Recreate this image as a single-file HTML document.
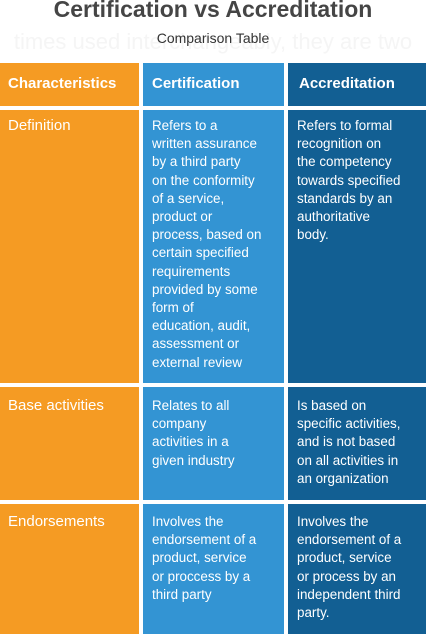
<!DOCTYPE html>
<html><head><meta charset="utf-8"><style>
body{margin:0;width:426px;height:634px;background:#fff;position:relative;overflow:hidden;font-family:"Liberation Sans",sans-serif}
.a{position:absolute}
.t{position:absolute;color:#fff;font-size:13.4px;line-height:18.2px;white-space:nowrap}
.o{background:#F59B23}.b{background:#3394D3}.d{background:#125F93}
.h{font-size:15px;font-weight:bold}
.l{font-size:15px}
</style></head><body>
<div class="a" style="left:0;top:29px;width:426px;text-align:center;font-size:22px;color:#f5f5f5;white-space:nowrap;overflow:hidden">times used interchangeably, they are two</div>
<div class="a" style="left:0;top:-4px;width:426px;text-align:center;font-size:23px;font-weight:bold;color:#454545">Certification vs Accreditation</div>
<div class="a" style="left:0;top:30px;width:426px;text-align:center;font-size:14px;color:#333">Comparison Table</div>

<div class="a o" style="left:0;top:63px;width:139px;height:43px"></div>
<div class="a b" style="left:143px;top:63px;width:141px;height:43px"></div>
<div class="a d" style="left:288px;top:63px;width:138px;height:43px"></div>
<div class="t h" style="left:8px;top:75px">Characteristics</div>
<div class="t h" style="left:152px;top:75px">Certification</div>
<div class="t h" style="left:299px;top:75px">Accreditation</div>

<div class="a o" style="left:0;top:110px;width:139px;height:273px"></div>
<div class="a b" style="left:143px;top:110px;width:141px;height:273px"></div>
<div class="a d" style="left:288px;top:110px;width:138px;height:273px"></div>
<div class="t l" style="left:8px;top:117px">Definition</div>
<div class="t" style="left:152px;top:117px">Refers to a<br>written assurance<br>by a third party<br>on the conformity<br>of a service,<br>product or<br>process, based on<br>certain specified<br>requirements<br>provided by some<br>form of<br>education, audit,<br>assessment or<br>external review</div>
<div class="t" style="left:297px;top:117px">Refers to formal<br>recognition on<br>the competency<br>towards specified<br>standards by an<br>authoritative<br>body.</div>

<div class="a o" style="left:0;top:387px;width:139px;height:113px"></div>
<div class="a b" style="left:143px;top:387px;width:141px;height:113px"></div>
<div class="a d" style="left:288px;top:387px;width:138px;height:113px"></div>
<div class="t l" style="left:8px;top:397px">Base activities</div>
<div class="t" style="left:152px;top:397px">Relates to all<br>company<br>activities in a<br>given industry</div>
<div class="t" style="left:297px;top:397px">Is based on<br>specific activities,<br>and is not based<br>on all activities in<br>an organization</div>

<div class="a o" style="left:0;top:504px;width:139px;height:130px"></div>
<div class="a b" style="left:143px;top:504px;width:141px;height:130px"></div>
<div class="a d" style="left:288px;top:504px;width:138px;height:130px"></div>
<div class="t l" style="left:8px;top:513px">Endorsements</div>
<div class="t" style="left:152px;top:513px">Involves the<br>endorsement of a<br>product, service<br>or proccess by a<br>third party</div>
<div class="t" style="left:297px;top:513px">Involves the<br>endorsement of a<br>product, service<br>or process by an<br>independent third<br>party.</div>
</body></html>
